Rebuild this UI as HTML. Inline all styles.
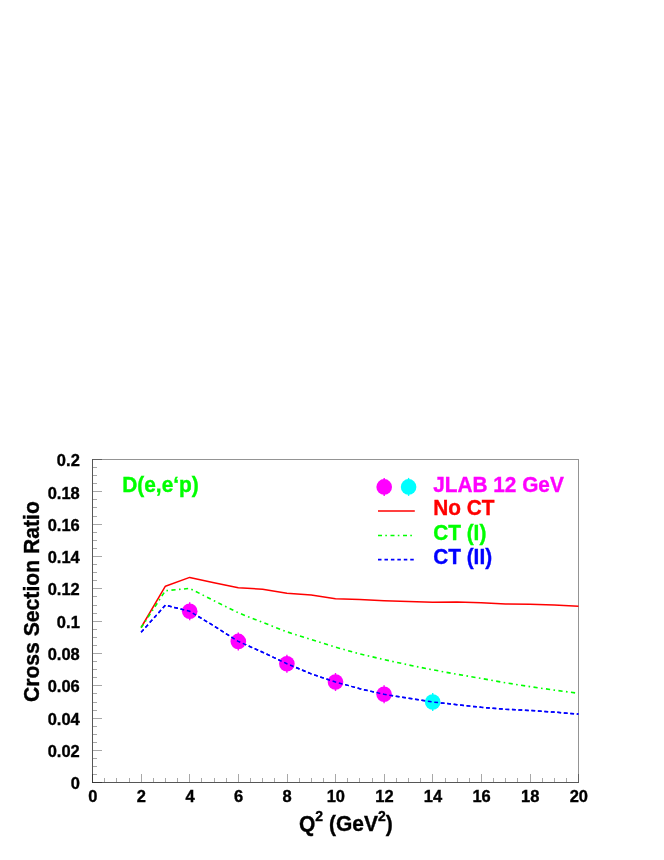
<!DOCTYPE html>
<html><head><meta charset="utf-8"><title>chart</title>
<style>
html,body{margin:0;padding:0;background:#fff;}
body{width:664px;height:860px;overflow:hidden;}
svg{display:block;will-change:transform;}
text{font-family:"Liberation Sans",sans-serif;font-weight:bold;}
</style></head><body>
<svg width="664" height="860" viewBox="0 0 664 860">
<rect x="0" y="0" width="664" height="860" fill="#fff"/>

<g stroke="#000" stroke-width="1" fill="none" stroke-opacity="0.42" shape-rendering="crispEdges">
<rect x="92.5" y="459.5" width="486.0" height="323.0"/>
<line x1="92.5" y1="459.0" x2="92.5" y2="783.0"/>
<line x1="92.0" y1="782.5" x2="579.0" y2="782.5"/>
</g>
<g stroke="#000" stroke-width="1" fill="none" stroke-opacity="0.34" shape-rendering="crispEdges">
<line x1="93.0" y1="782.5" x2="102.0" y2="782.5"/>
<line x1="93.0" y1="774.5" x2="97.0" y2="774.5"/>
<line x1="93.0" y1="766.5" x2="97.0" y2="766.5"/>
<line x1="93.0" y1="758.5" x2="97.0" y2="758.5"/>
<line x1="93.0" y1="750.5" x2="102.0" y2="750.5"/>
<line x1="93.0" y1="742.5" x2="97.0" y2="742.5"/>
<line x1="93.0" y1="734.5" x2="97.0" y2="734.5"/>
<line x1="93.0" y1="726.5" x2="97.0" y2="726.5"/>
<line x1="93.0" y1="718.5" x2="102.0" y2="718.5"/>
<line x1="93.0" y1="710.5" x2="97.0" y2="710.5"/>
<line x1="93.0" y1="702.5" x2="97.0" y2="702.5"/>
<line x1="93.0" y1="693.5" x2="97.0" y2="693.5"/>
<line x1="93.0" y1="685.5" x2="102.0" y2="685.5"/>
<line x1="93.0" y1="677.5" x2="97.0" y2="677.5"/>
<line x1="93.0" y1="669.5" x2="97.0" y2="669.5"/>
<line x1="93.0" y1="661.5" x2="97.0" y2="661.5"/>
<line x1="93.0" y1="653.5" x2="102.0" y2="653.5"/>
<line x1="93.0" y1="645.5" x2="97.0" y2="645.5"/>
<line x1="93.0" y1="637.5" x2="97.0" y2="637.5"/>
<line x1="93.0" y1="629.5" x2="97.0" y2="629.5"/>
<line x1="93.0" y1="621.5" x2="102.0" y2="621.5"/>
<line x1="93.0" y1="613.5" x2="97.0" y2="613.5"/>
<line x1="93.0" y1="605.5" x2="97.0" y2="605.5"/>
<line x1="93.0" y1="596.5" x2="97.0" y2="596.5"/>
<line x1="93.0" y1="588.5" x2="102.0" y2="588.5"/>
<line x1="93.0" y1="580.5" x2="97.0" y2="580.5"/>
<line x1="93.0" y1="572.5" x2="97.0" y2="572.5"/>
<line x1="93.0" y1="564.5" x2="97.0" y2="564.5"/>
<line x1="93.0" y1="556.5" x2="102.0" y2="556.5"/>
<line x1="93.0" y1="548.5" x2="97.0" y2="548.5"/>
<line x1="93.0" y1="540.5" x2="97.0" y2="540.5"/>
<line x1="93.0" y1="532.5" x2="97.0" y2="532.5"/>
<line x1="93.0" y1="524.5" x2="102.0" y2="524.5"/>
<line x1="93.0" y1="516.5" x2="97.0" y2="516.5"/>
<line x1="93.0" y1="507.5" x2="97.0" y2="507.5"/>
<line x1="93.0" y1="499.5" x2="97.0" y2="499.5"/>
<line x1="93.0" y1="491.5" x2="102.0" y2="491.5"/>
<line x1="93.0" y1="483.5" x2="97.0" y2="483.5"/>
<line x1="93.0" y1="475.5" x2="97.0" y2="475.5"/>
<line x1="93.0" y1="467.5" x2="97.0" y2="467.5"/>
<line x1="93.0" y1="459.5" x2="102.0" y2="459.5"/>
<line x1="92.5" y1="782.0" x2="92.5" y2="773.6"/>
<line x1="104.5" y1="782.0" x2="104.5" y2="778.4"/>
<line x1="116.5" y1="782.0" x2="116.5" y2="778.4"/>
<line x1="129.5" y1="782.0" x2="129.5" y2="778.4"/>
<line x1="141.5" y1="782.0" x2="141.5" y2="773.6"/>
<line x1="153.5" y1="782.0" x2="153.5" y2="778.4"/>
<line x1="165.5" y1="782.0" x2="165.5" y2="778.4"/>
<line x1="177.5" y1="782.0" x2="177.5" y2="778.4"/>
<line x1="189.5" y1="782.0" x2="189.5" y2="773.6"/>
<line x1="201.5" y1="782.0" x2="201.5" y2="778.4"/>
<line x1="214.5" y1="782.0" x2="214.5" y2="778.4"/>
<line x1="226.5" y1="782.0" x2="226.5" y2="778.4"/>
<line x1="238.5" y1="782.0" x2="238.5" y2="773.6"/>
<line x1="250.5" y1="782.0" x2="250.5" y2="778.4"/>
<line x1="262.5" y1="782.0" x2="262.5" y2="778.4"/>
<line x1="274.5" y1="782.0" x2="274.5" y2="778.4"/>
<line x1="287.5" y1="782.0" x2="287.5" y2="773.6"/>
<line x1="299.5" y1="782.0" x2="299.5" y2="778.4"/>
<line x1="311.5" y1="782.0" x2="311.5" y2="778.4"/>
<line x1="323.5" y1="782.0" x2="323.5" y2="778.4"/>
<line x1="335.5" y1="782.0" x2="335.5" y2="773.6"/>
<line x1="347.5" y1="782.0" x2="347.5" y2="778.4"/>
<line x1="359.5" y1="782.0" x2="359.5" y2="778.4"/>
<line x1="372.5" y1="782.0" x2="372.5" y2="778.4"/>
<line x1="384.5" y1="782.0" x2="384.5" y2="773.6"/>
<line x1="396.5" y1="782.0" x2="396.5" y2="778.4"/>
<line x1="408.5" y1="782.0" x2="408.5" y2="778.4"/>
<line x1="420.5" y1="782.0" x2="420.5" y2="778.4"/>
<line x1="432.5" y1="782.0" x2="432.5" y2="773.6"/>
<line x1="445.5" y1="782.0" x2="445.5" y2="778.4"/>
<line x1="457.5" y1="782.0" x2="457.5" y2="778.4"/>
<line x1="469.5" y1="782.0" x2="469.5" y2="778.4"/>
<line x1="481.5" y1="782.0" x2="481.5" y2="773.6"/>
<line x1="493.5" y1="782.0" x2="493.5" y2="778.4"/>
<line x1="505.5" y1="782.0" x2="505.5" y2="778.4"/>
<line x1="517.5" y1="782.0" x2="517.5" y2="778.4"/>
<line x1="530.5" y1="782.0" x2="530.5" y2="773.6"/>
<line x1="542.5" y1="782.0" x2="542.5" y2="778.4"/>
<line x1="554.5" y1="782.0" x2="554.5" y2="778.4"/>
<line x1="566.5" y1="782.0" x2="566.5" y2="778.4"/>
<line x1="578.5" y1="782.0" x2="578.5" y2="773.6"/>
</g>
<g>
<text transform="translate(79.8,789.2) scale(1,1.02)" font-size="16.5px" fill="#000" stroke="#000" stroke-width="0.35" text-anchor="end">0</text>
<text transform="translate(79.8,756.9) scale(1,1.02)" font-size="16.5px" fill="#000" stroke="#000" stroke-width="0.35" text-anchor="end">0.02</text>
<text transform="translate(79.8,724.6) scale(1,1.02)" font-size="16.5px" fill="#000" stroke="#000" stroke-width="0.35" text-anchor="end">0.04</text>
<text transform="translate(79.8,692.3) scale(1,1.02)" font-size="16.5px" fill="#000" stroke="#000" stroke-width="0.35" text-anchor="end">0.06</text>
<text transform="translate(79.8,660.0) scale(1,1.02)" font-size="16.5px" fill="#000" stroke="#000" stroke-width="0.35" text-anchor="end">0.08</text>
<text transform="translate(79.8,627.7) scale(1,1.02)" font-size="16.5px" fill="#000" stroke="#000" stroke-width="0.35" text-anchor="end">0.1</text>
<text transform="translate(79.8,595.4) scale(1,1.02)" font-size="16.5px" fill="#000" stroke="#000" stroke-width="0.35" text-anchor="end">0.12</text>
<text transform="translate(79.8,563.1) scale(1,1.02)" font-size="16.5px" fill="#000" stroke="#000" stroke-width="0.35" text-anchor="end">0.14</text>
<text transform="translate(79.8,530.8) scale(1,1.02)" font-size="16.5px" fill="#000" stroke="#000" stroke-width="0.35" text-anchor="end">0.16</text>
<text transform="translate(79.8,498.5) scale(1,1.02)" font-size="16.5px" fill="#000" stroke="#000" stroke-width="0.35" text-anchor="end">0.18</text>
<text transform="translate(79.8,466.2) scale(1,1.02)" font-size="16.5px" fill="#000" stroke="#000" stroke-width="0.35" text-anchor="end">0.2</text>
<text transform="translate(92.8,801.9) scale(1,1.02)" font-size="16.5px" fill="#000" stroke="#000" stroke-width="0.35" text-anchor="middle">0</text>
<text transform="translate(141.4,801.9) scale(1,1.02)" font-size="16.5px" fill="#000" stroke="#000" stroke-width="0.35" text-anchor="middle">2</text>
<text transform="translate(190.0,801.9) scale(1,1.02)" font-size="16.5px" fill="#000" stroke="#000" stroke-width="0.35" text-anchor="middle">4</text>
<text transform="translate(238.6,801.9) scale(1,1.02)" font-size="16.5px" fill="#000" stroke="#000" stroke-width="0.35" text-anchor="middle">6</text>
<text transform="translate(287.2,801.9) scale(1,1.02)" font-size="16.5px" fill="#000" stroke="#000" stroke-width="0.35" text-anchor="middle">8</text>
<text transform="translate(335.8,801.9) scale(1,1.02)" font-size="16.5px" fill="#000" stroke="#000" stroke-width="0.35" text-anchor="middle">10</text>
<text transform="translate(384.4,801.9) scale(1,1.02)" font-size="16.5px" fill="#000" stroke="#000" stroke-width="0.35" text-anchor="middle">12</text>
<text transform="translate(433.0,801.9) scale(1,1.02)" font-size="16.5px" fill="#000" stroke="#000" stroke-width="0.35" text-anchor="middle">14</text>
<text transform="translate(481.6,801.9) scale(1,1.02)" font-size="16.5px" fill="#000" stroke="#000" stroke-width="0.35" text-anchor="middle">16</text>
<text transform="translate(530.2,801.9) scale(1,1.02)" font-size="16.5px" fill="#000" stroke="#000" stroke-width="0.35" text-anchor="middle">18</text>
<text transform="translate(578.8,801.9) scale(1,1.02)" font-size="16.5px" fill="#000" stroke="#000" stroke-width="0.35" text-anchor="middle">20</text>
</g>
<text transform="translate(299,831) scale(1,1.045)" font-size="21px" fill="#000" stroke="#000" stroke-width="0.35" text-anchor="start">Q<tspan dy="-9.8" font-size="14px">2</tspan><tspan dy="9.8"> (GeV</tspan><tspan dy="-9.8" font-size="14px">2</tspan><tspan dy="9.8">)</tspan></text>
<text transform="translate(39.4,501.2) rotate(-90) scale(1,1.08)" text-anchor="end" font-size="21.15px" fill="#000" stroke="#000" stroke-width="0.35">Cross Section Ratio</text>
<polyline points="141.1,627.5 165.4,586.2 189.7,577.4 214.0,582.8 238.3,587.7 262.6,589.3 286.9,593.3 311.2,595.1 335.5,598.8 359.8,599.4 384.1,600.7 408.4,601.5 432.7,602.3 457.0,602.1 481.3,602.7 505.6,603.9 529.9,604.3 554.2,605.0 578.5,606.2" fill="none" stroke="#ff0000" stroke-width="1.5" stroke-linejoin="round"/>
<polyline points="141.1,627.8 165.4,590.7 189.7,588.4 214.0,600.7 238.3,612.8 262.6,622.4 286.9,631.8 311.2,639.5 335.5,647.2 359.8,653.9 384.1,659.6 408.4,664.9 432.7,669.8 457.0,674.3 481.3,678.4 505.6,682.8 529.9,686.6 554.2,690.1 578.5,693.3" fill="none" stroke="#00ff00" stroke-width="1.6" stroke-dasharray="4.2 3.4 1.6 3.4"/>
<polyline points="141.1,632.3 165.4,605.2 189.7,611.3 214.0,626.0 238.3,641.4 262.6,652.2 286.9,663.7 311.2,673.9 335.5,682.0 359.8,688.7 384.1,694.3 408.4,698.2 432.7,702.0 457.0,704.7 481.3,707.3 505.6,709.2 529.9,710.5 554.2,712.1 578.5,714.1" fill="none" stroke="#0000ff" stroke-width="1.5" stroke-dasharray="3.8 2.7"/>
<circle cx="189.7" cy="611.3" r="7.8" fill="#ff00ff"/><line x1="189.7" y1="602.3" x2="189.7" y2="620.3" stroke="#ff00ff" stroke-width="1.4"/>
<circle cx="238.3" cy="641.4" r="7.8" fill="#ff00ff"/><line x1="238.3" y1="632.4" x2="238.3" y2="650.4" stroke="#ff00ff" stroke-width="1.4"/>
<circle cx="286.9" cy="663.7" r="7.8" fill="#ff00ff"/><line x1="286.9" y1="654.7" x2="286.9" y2="672.7" stroke="#ff00ff" stroke-width="1.4"/>
<circle cx="335.5" cy="682.0" r="7.8" fill="#ff00ff"/><line x1="335.5" y1="673.0" x2="335.5" y2="691.0" stroke="#ff00ff" stroke-width="1.4"/>
<circle cx="384.1" cy="694.3" r="7.8" fill="#ff00ff"/><line x1="384.1" y1="685.3" x2="384.1" y2="703.3" stroke="#ff00ff" stroke-width="1.4"/>
<circle cx="432.7" cy="702.0" r="7.8" fill="#00ffff"/><line x1="432.7" y1="693.0" x2="432.7" y2="711.0" stroke="#00ffff" stroke-width="1.4"/>
<polyline points="141.1,632.3 165.4,605.2 189.7,611.3 214.0,626.0 238.3,641.4 262.6,652.2 286.9,663.7 311.2,673.9 335.5,682.0 359.8,688.7 384.1,694.3 408.4,698.2 432.7,702.0 457.0,704.7 481.3,707.3 505.6,709.2 529.9,710.5 554.2,712.1 578.5,714.1" fill="none" stroke="#0000ff" stroke-width="1.5" stroke-dasharray="3.8 2.7"/>
<circle cx="384.2" cy="486.9" r="7.8" fill="#ff00ff"/><line x1="384.2" y1="477.9" x2="384.2" y2="495.9" stroke="#ff00ff" stroke-width="1.4"/>
<circle cx="408.6" cy="486.9" r="7.8" fill="#00ffff"/><line x1="408.6" y1="477.9" x2="408.6" y2="495.9" stroke="#00ffff" stroke-width="1.4"/>
<line x1="378" y1="511" x2="414.8" y2="511" stroke="#ff0000" stroke-width="1.5"/>
<line x1="378" y1="535.5" x2="414.8" y2="535.5" stroke="#00ff00" stroke-width="1.6" stroke-dasharray="4 3.3 1.6 3.6"/>
<line x1="378" y1="559.6" x2="414.8" y2="559.6" stroke="#0000ff" stroke-width="1.6" stroke-dasharray="3.5 2.95"/>
<text transform="translate(433.2,491.5) scale(1,1.045)" font-size="20.8px" fill="#ff00ff" stroke="#ff00ff" stroke-width="0.35" text-anchor="start">JLAB 12 GeV</text>
<text transform="translate(433.2,515) scale(1,1.045)" font-size="20.8px" fill="#ff0000" stroke="#ff0000" stroke-width="0.35" text-anchor="start">No CT</text>
<text transform="translate(433.2,539.6) scale(1,1.045)" font-size="20.8px" fill="#00ff00" stroke="#00ff00" stroke-width="0.35" text-anchor="start">CT (I)</text>
<text transform="translate(433.2,563.8) scale(1,1.045)" font-size="20.8px" fill="#0000ff" stroke="#0000ff" stroke-width="0.35" text-anchor="start">CT (II)</text>
<text transform="translate(122.2,491.5) scale(1,1.045)" font-size="20.9px" fill="#00ff00" stroke="#00ff00" stroke-width="0.35" text-anchor="start">D(e,e&#8216;p)</text>
</svg></body></html>
